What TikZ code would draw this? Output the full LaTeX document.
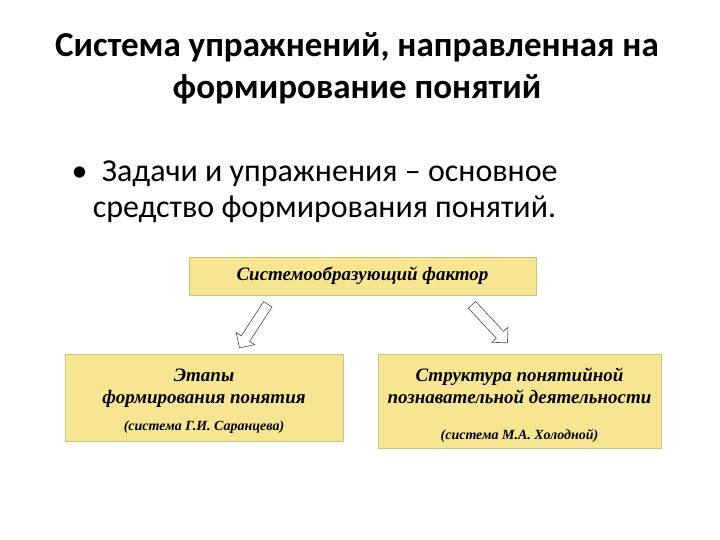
\documentclass[tikz,border=0pt]{standalone}
\usepackage{fontspec}
\setmainfont{Carlito}
\newfontfamily\boxfont{Liberation Serif}
\usetikzlibrary{shapes.arrows}
\begin{document}
\begin{tikzpicture}[x=1pt,y=-1pt,
  ybox/.style={fill=boxyel,draw=boxyel!85!black,line width=0.4pt,inner sep=0pt,align=center,font=\boxfont\itshape\bfseries\fontsize{19}{22}\selectfont},
  barrow/.style={single arrow,draw=black!70,fill=white,line width=0.6pt,minimum height=52pt,minimum width=22pt,single arrow head extend=4pt,inner sep=3pt}]
\definecolor{boxyel}{RGB}{246,230,145}
\useasboundingbox (0,0) rectangle (720,540);
\node[font=\bfseries\fontsize{35}{42}\selectfont,align=center] (title) at (357,68) {Система упражнений, направленная на\\формирование понятий};
\node[font=\fontsize{32}{36}\selectfont,anchor=north west,align=left] (bul) at (68,157) {•\ \ Задачи и упражнения -- основное\\\hphantom{•\,}средство формирования понятий.};
\node[ybox,minimum width=347pt,minimum height=38pt] (top) at (362.5,276) {Системообразующий фактор};
\node[ybox,minimum width=278pt,minimum height=87pt] (left) at (204,397.5) {};
\node[font=\boxfont\itshape\bfseries\fontsize{19}{22}\selectfont,align=center] (lt) at (204,388) {Этапы\\формирования понятия};
\node[font=\boxfont\itshape\bfseries\fontsize{14}{16}\selectfont] (ls) at (204,427) {(система Г.И. Саранцева)};
\node[ybox,minimum width=283pt,minimum height=94pt] (right) at (519.5,401) {};
\node[font=\boxfont\itshape\bfseries\fontsize{19}{22}\selectfont,align=center] (rt) at (519.5,386) {Структура понятийной\\познавательной деятельности};
\node[font=\boxfont\itshape\bfseries\fontsize{14}{16}\selectfont] (rs) at (519.5,436) {(система М.А. Холодной)};
\node[barrow,rotate=237] (a1) at (255,324) {};
\node[barrow,rotate=313] (a2) at (488,322) {};
\end{tikzpicture}
\end{document}
